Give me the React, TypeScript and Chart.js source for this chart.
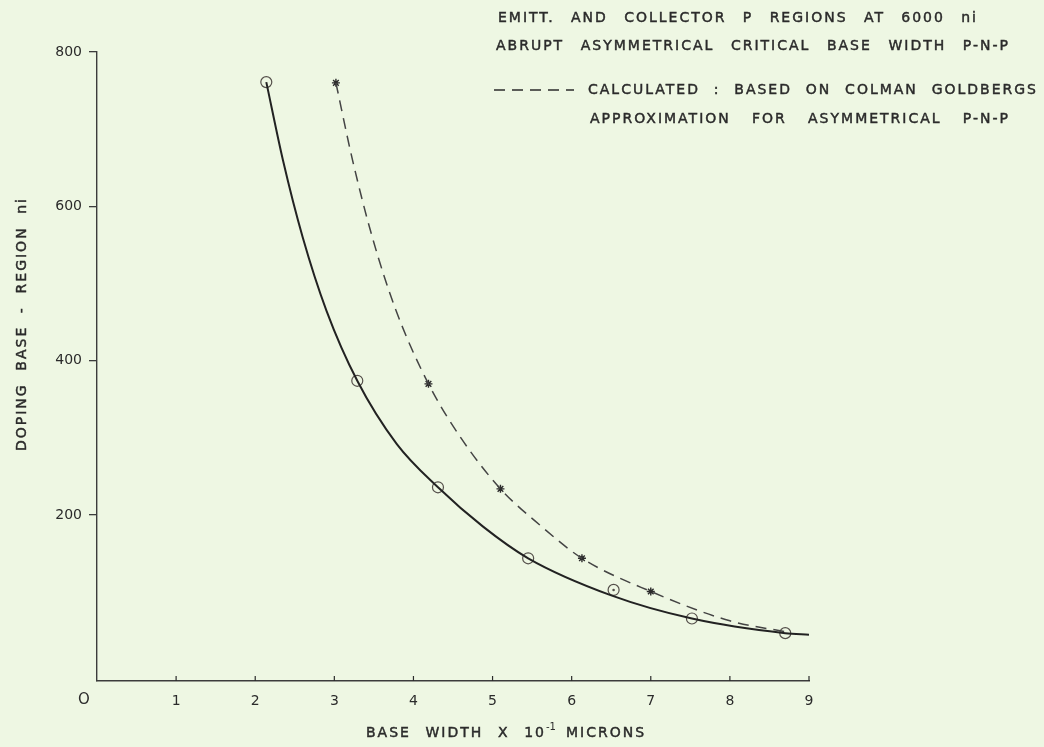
import React, { useEffect, useRef } from "react";
import { Chart, registerables } from "chart.js";

Chart.register(...registerables);

// Measured critical base width (circles) and the fitted solid curve through them
const measuredWidth = [2.14, 3.29, 4.31, 5.45, 6.53, 7.52, 8.7];
const measuredDoping = [761, 374, 236, 144, 103, 66, 47];
const fitWidth = [2.14, 2.35, 2.6, 2.9, 3.29, 3.79, 4.31, 4.88, 5.45, 6.5, 7.52, 8.7, 9.0];
const fitDoping = [761, 660, 560, 465, 374, 292, 236, 185, 144, 96, 66, 47, 45];

// Dotted-centre marker (the point lying off the fitted curve)
const centredWidth = [6.53];
const centredDoping = [103];

// Calculated values (Colman / Goldberg approximation)
const calcWidth = [3.02, 4.19, 5.1, 6.13, 7.0];
const calcDoping = [760, 370, 234, 144, 101];
const calcCurveWidth = [3.02, 3.23, 3.48, 3.78, 4.19, 4.6, 5.1, 5.61, 6.13, 7.0, 8.0, 8.75];
const calcCurveDoping = [760, 660, 560, 465, 370, 300, 234, 186, 144, 101, 63, 48];

const xTicks = [1, 2, 3, 4, 5, 6, 7, 8, 9];
const yTicks = [200, 400, 600, 800];

const headerLines = [
  "EMITT. AND COLLECTOR P REGIONS AT 6000 ni",
  "ABRUPT ASYMMETRICAL CRITICAL BASE WIDTH P-N-P",
  "CALCULATED : BASED ON COLMAN GOLDBERGS",
  "APPROXIMATION FOR ASYMMETRICAL P-N-P",
];
const xTitle = "BASE WIDTH X 10";
const xTitleSup = "-1";
const xTitleEnd = "MICRONS";
const yTitle = "DOPING BASE - REGION ni";
const originLabel = "O";

const INK = "#2b2b2b";
const FONT = "'DejaVu Sans', sans-serif";

const toPoints = (xs: number[], ys: number[]) => xs.map((x, i) => ({ x, y: ys[i] }));

// Lettering: fixed letter spacing, word gaps stretched so the line spans x0..x1
function letterLine(ctx: CanvasRenderingContext2D, text: string, x0: number, x1: number, y: number, spacing = 2) {
  const c = ctx as any;
  c.letterSpacing = `${spacing}px`;
  const words = text.split(" ");
  const widths = words.map((w) => ctx.measureText(w).width - spacing);
  const total = widths.reduce((a, b) => a + b, 0);
  const gap = words.length > 1 ? (x1 - x0 - total) / (words.length - 1) : 0;
  let x = x0;
  ctx.lineWidth = 0.45;
  words.forEach((w, i) => {
    ctx.fillText(w, x, y);
    ctx.strokeText(w, x, y);
    x += widths[i] + gap;
  });
  c.letterSpacing = "0px";
}

const annotations = {
  id: "annotations",
  afterDraw(chart: Chart) {
    const ctx = chart.ctx;
    const xs = chart.scales.x;
    ctx.save();
    ctx.fillStyle = INK;
    ctx.strokeStyle = INK;
    ctx.textBaseline = "middle";
    ctx.textAlign = "left";
    ctx.font = `14px ${FONT}`;

    // header block
    letterLine(ctx, headerLines[0], 498, 976, 18);
    letterLine(ctx, headerLines[1], 496, 1008, 46);
    letterLine(ctx, headerLines[2], 588, 1036, 90);
    letterLine(ctx, headerLines[3], 590, 1008, 119);

    // dashed key before "CALCULATED"
    ctx.setLineDash([11, 7]);
    ctx.lineWidth = 1.4;
    ctx.beginPath();
    ctx.moveTo(494, 90);
    ctx.lineTo(574, 90);
    ctx.stroke();
    ctx.setLineDash([]);

    // x tick marks, standing up from the axis
    ctx.lineWidth = 1.2;
    const base = xs.top;
    xTicks.forEach((t) => {
      const px = xs.getPixelForValue(t);
      ctx.beginPath();
      ctx.moveTo(px, base);
      ctx.lineTo(px, base - 5);
      ctx.stroke();
    });

    // shared origin label
    ctx.textAlign = "center";
    ctx.font = `15px ${FONT}`;
    ctx.fillText(originLabel, xs.left - 13, 700);

    // x axis title with superscript
    ctx.textAlign = "left";
    ctx.font = `14px ${FONT}`;
    const ty = 733;
    letterLine(ctx, xTitle, 366, 544, ty);
    ctx.font = `10px ${FONT}`;
    ctx.fillText(xTitleSup, 546, ty - 6);
    ctx.font = `14px ${FONT}`;
    letterLine(ctx, xTitleEnd, 566, 650, ty);

    // y axis title, rotated
    ctx.save();
    ctx.translate(22, 325);
    ctx.rotate(-Math.PI / 2);
    letterLine(ctx, yTitle, -126, 126, 0);
    ctx.restore();

    ctx.restore();
  },
};

export default function App() {
  const canvasRef = useRef<HTMLCanvasElement | null>(null);

  useEffect(() => {
    if (!canvasRef.current) return;
    const chart = new Chart(canvasRef.current, {
      type: "scatter",
      data: {
        datasets: [
          {
            label: "fit",
            data: toPoints(fitWidth, fitDoping),
            showLine: true,
            borderColor: "#222222",
            borderWidth: 2,
            pointRadius: 0,
            cubicInterpolationMode: "monotone",
          },
          {
            label: "calculated curve",
            data: toPoints(calcCurveWidth, calcCurveDoping),
            showLine: true,
            borderColor: "#444444",
            borderWidth: 1.5,
            borderDash: [11, 7],
            pointRadius: 0,
            cubicInterpolationMode: "monotone",
          },
          {
            label: "measured",
            data: toPoints(measuredWidth, measuredDoping),
            showLine: false,
            pointStyle: "circle",
            pointRadius: 5.5,
            pointBorderWidth: 1.2,
            pointBorderColor: "#55504b",
            pointBackgroundColor: "rgba(0,0,0,0)",
          },
          {
            label: "centre dot",
            data: toPoints(centredWidth, centredDoping),
            showLine: false,
            pointStyle: "circle",
            pointRadius: 1.3,
            pointBorderWidth: 0,
            pointBackgroundColor: "#55504b",
          },
          {
            label: "calculated",
            data: toPoints(calcWidth, calcDoping),
            showLine: false,
            pointStyle: "star",
            pointRadius: 4,
            pointBorderWidth: 1.4,
            pointBorderColor: "#2b2b2b",
            pointBackgroundColor: "#2b2b2b",
          },
        ],
      },
      options: {
        animation: false,
        responsive: false,
        events: [],
        layout: { padding: { top: 52, right: 235, left: 0, bottom: 0 } },
        plugins: { legend: { display: false }, tooltip: { enabled: false } },
        scales: {
          x: {
            type: "linear",
            min: 0,
            max: 9,
            afterFit: (s: any) => {
              s.height = 66;
            },
            afterBuildTicks: (s: any) => {
              s.ticks = xTicks.map((v) => ({ value: v }));
            },
            grid: { display: false, drawTicks: false },
            border: { display: true, color: "#3c3c3c", width: 1.4 },
            ticks: {
              padding: 12,
              color: INK,
              font: { family: FONT, size: 14 },
              callback: (v: any) => String(v),
            },
          },
          y: {
            type: "linear",
            min: -15,
            max: 800,
            afterFit: (s: any) => {
              s.width = 97;
            },
            afterBuildTicks: (s: any) => {
              s.ticks = yTicks.map((v) => ({ value: v }));
            },
            grid: {
              display: true,
              drawOnChartArea: false,
              drawTicks: true,
              tickLength: 8,
              color: "#3c3c3c",
              lineWidth: 1.3,
            },
            border: { display: true, color: "#3c3c3c", width: 1.4 },
            ticks: {
              padding: 7,
              color: INK,
              font: { family: FONT, size: 14 },
              callback: (v: any) => String(v),
            },
          },
        },
      },
      plugins: [annotations],
    });
    return () => chart.destroy();
  }, []);

  return (
    <div
      style={{
        position: "fixed",
        left: 0,
        top: 0,
        width: 1044,
        height: 747,
        background: "#eef7e3",
      }}
    >
      <canvas ref={canvasRef} width={1044} height={747} style={{ display: "block" }} />
    </div>
  );
}
